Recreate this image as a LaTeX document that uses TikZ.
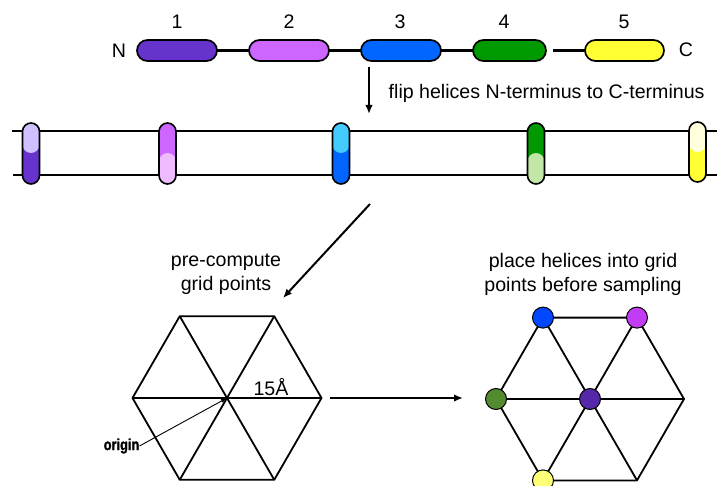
\documentclass[tikz,border=0pt]{standalone}
\usepackage{fontspec}
\setmainfont{Liberation Sans}
\newfontfamily\heavyfont[FakeStretch=0.8, FakeBold=1.5]{Liberation Sans}
\usetikzlibrary{arrows.meta,calc}

% helix colours (dark = body, light = flipped end)
\definecolor{hOne}{HTML}{6633CC}
\definecolor{hTwo}{HTML}{CC66FF}
\definecolor{hThree}{HTML}{0066FF}
\definecolor{hFour}{HTML}{009900}
\definecolor{hFive}{HTML}{FFFF33}
\definecolor{lOne}{HTML}{CFC0FF}
\definecolor{lTwo}{HTML}{EEBBFF}
\definecolor{lThree}{HTML}{44CCFF}
\definecolor{lFour}{HTML}{C2E6A6}
\definecolor{lFive}{HTML}{FFFFDD}
% grid site colours
\definecolor{sBlue}{HTML}{0047FF}
\definecolor{sMag}{HTML}{C23CF5}
\definecolor{sGreen}{HTML}{558B2F}
\definecolor{sPurple}{HTML}{5428A8}
\definecolor{sYellow}{HTML}{FFFF77}

\tikzset{
  helix/.style={draw=black, line width=1.7pt, rounded corners=10.5pt,
    minimum width=80pt, minimum height=21pt, inner sep=0pt, outer sep=0pt},
  vcap/.style={rounded corners=8.5pt, minimum width=17pt, minimum height=61pt,
    inner sep=0pt, outer sep=0pt},
  vlight/.style={rounded corners=8.5pt, minimum width=17pt, minimum height=30pt,
    inner sep=0pt, outer sep=0pt},
  capline/.style={draw=black, line width=1.6pt},
  link/.style={line width=2.3pt},
  rail/.style={line width=2.4pt},
  bigarrow/.style={line width=2pt, -{Latex[length=9pt,width=7.5pt]}},
  thinarrow/.style={line width=0.9pt, -{Latex[length=6pt,width=4pt]}},
  hexline/.style={line width=1.8pt, line join=round},
  site/.style={circle, draw=black, line width=1pt, minimum size=21pt, inner sep=0pt},
  lbl/.style={font=\fontsize{19.6}{24}\selectfont, inner sep=0pt},
}

\begin{document}
\begin{tikzpicture}[x=1pt, y=-1pt]
\clip (0,0) rectangle (717,486);
\fill[white] (0,0) rectangle (717,486);

% ---------- sequence of helices ----------
\node[helix, fill=hOne]   (h1) at (177,50.5) {};
\node[helix, fill=hTwo]   (h2) at (289,50.5) {};
\node[helix, fill=hThree] (h3) at (401,50.5) {};
\node[helix, fill=hFour, minimum width=73pt] (h4) at (509.5,50.5) {};
\node[helix, fill=hFive, minimum width=79pt] (h5) at (624.5,50.5) {};
\coordinate (gap) at (553,50.5);
\draw[link] (h1.east) -- (h2.west);
\draw[link] (h2.east) -- (h3.west);
\draw[link] (h3.east) -- (h4.west);
\draw[link] (gap) -- (h5.west);

\node[lbl] (n1) at (177,22) {1};
\node[lbl] (n2) at (289,22) {2};
\node[lbl] (n3) at (400,22) {3};
\node[lbl] (n4) at (504,22) {4};
\node[lbl] (n5) at (624,22) {5};
\node[lbl] (nterm) at (119,51) {N};
\node[lbl] (cterm) at (686,50) {C};

% ---------- flip step ----------
\coordinate (flipA) at (369,67);
\coordinate (flipB) at (369,114);
\draw[bigarrow] (flipA) -- (flipB);
\node[lbl, anchor=west] (fliptext) at (388.5,93) {flip helices N-terminus to C-terminus};

% ---------- membrane with flipped helices ----------
\coordinate (rt1) at (12,131);  \coordinate (rt2) at (717,131);
\coordinate (rb1) at (13,175);  \coordinate (rb2) at (717,175);
\draw[rail] (rt1) -- (rt2);
\draw[rail] (rb1) -- (rb2);

\node[vcap, fill=hOne]    (v1) at (31,153.5) {};
\node[vlight, fill=lOne]  (w1) at (31,138) {};
\node[vcap, capline] (o1) at (31,153.5) {};

\node[vcap, fill=hTwo]    (v2) at (167.5,153.5) {};
\node[vlight, fill=lTwo, minimum height=31pt] (w2) at (167.5,168.5) {};
\node[vcap, capline] (o2) at (167.5,153.5) {};

\node[vcap, fill=hThree]  (v3) at (341,153.5) {};
\node[vlight, fill=lThree] (w3) at (341,138) {};
\node[vcap, capline] (o3) at (341,153.5) {};

\node[vcap, fill=hFour]   (v4) at (536,153.5) {};
\node[vlight, fill=lFour, minimum height=31pt] (w4) at (536,168.5) {};
\node[vcap, capline] (o4) at (536,153.5) {};

\node[vcap, fill=hFive, minimum height=60pt] (v5) at (697.5,152) {};
\node[vlight, fill=lFive] (w5) at (697.5,137) {};
\node[vcap, capline, minimum height=60pt] (o5) at (697.5,152) {};

% ---------- grid step ----------
\coordinate (gridA) at (370,204);
\coordinate (gridB) at (283,298);
\draw[bigarrow] (gridA) -- (gridB);
\node[lbl, align=center] (gridtext) at (226,274) {pre-compute\\grid points};

% left hexagon: grid points
\coordinate (L) at (227,398);
\coordinate (L0) at ($(L)+(94.5,0)$);
\coordinate (L1) at ($(L)+(47.25,-81.8)$);
\coordinate (L2) at ($(L)+(-47.25,-81.8)$);
\coordinate (L3) at ($(L)+(-94.5,0)$);
\coordinate (L4) at ($(L)+(-47.25,81.8)$);
\coordinate (L5) at ($(L)+(47.25,81.8)$);
\draw[hexline] (L0) -- (L1) -- (L2) -- (L3) -- (L4) -- (L5) -- cycle;
\draw[hexline] (L0) -- (L3) (L1) -- (L4) (L2) -- (L5);
\node[lbl] (dist) at (271,387) {15Å};

\node[inner sep=0pt, anchor=east, font=\heavyfont\bfseries\fontsize{16}{18}\selectfont]
  (origin) at (139.5,446) {origin};
\draw[thinarrow] (origin.east) -- (L);

% ---------- placement step ----------
\coordinate (placeA) at (330,398);
\coordinate (placeB) at (463,398);
\draw[bigarrow] (placeA) -- (placeB);
\node[lbl, align=center] (placetext) at (583,274.5) {place helices into grid\\points before sampling};

% right hexagon with helices on grid points
\coordinate (R) at (590,399);
\coordinate (R0) at ($(R)+(94,0)$);
\coordinate (R1) at ($(R)+(47,-81.4)$);
\coordinate (R2) at ($(R)+(-47,-81.4)$);
\coordinate (R3) at ($(R)+(-94,0)$);
\coordinate (R4) at ($(R)+(-47,81.4)$);
\coordinate (R5) at ($(R)+(47,81.4)$);
\draw[hexline] (R0) -- (R1) -- (R2) -- (R3) -- (R4) -- (R5) -- cycle;
\draw[hexline] (R0) -- (R3) (R1) -- (R4) (R2) -- (R5);

\node[site, fill=sBlue]   (s1) at (R2) {};
\node[site, fill=sMag]    (s2) at (R1) {};
\node[site, fill=sGreen]  (s3) at (R3) {};
\node[site, fill=sPurple] (s4) at (R) {};
\node[site, fill=sYellow] (s5) at (R4) {};
\end{tikzpicture}
\end{document}
